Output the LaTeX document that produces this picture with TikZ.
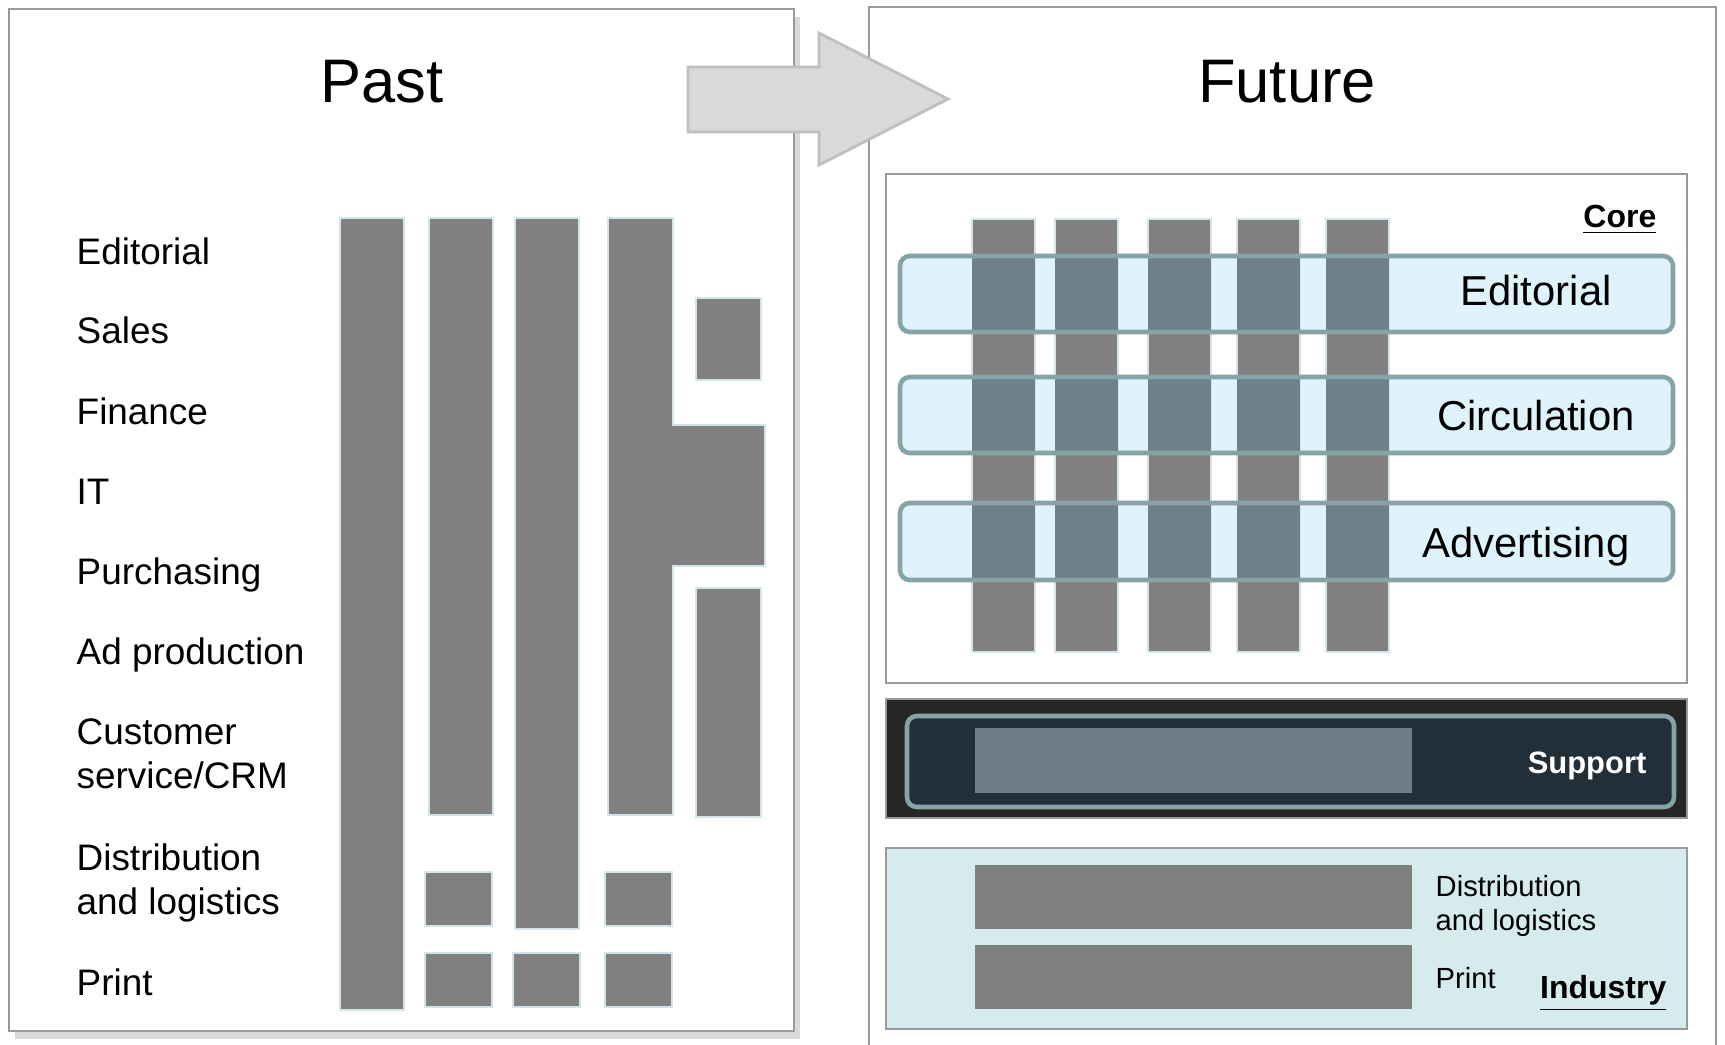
\documentclass[tikz,border=0pt]{standalone}
\usepackage{fontspec}
\setmainfont{Liberation Sans}
\usetikzlibrary{shadows}

\definecolor{bargray}{HTML}{808080}
\definecolor{baredge}{HTML}{D2E6EA}
\definecolor{bandfill}{HTML}{DFF3FC}
\definecolor{bandedge}{HTML}{86A3A6}
\definecolor{overlap}{HTML}{6E8089}
\definecolor{panelgray}{HTML}{9A9A9A}
\definecolor{arrowfill}{HTML}{D9D9D9}
\definecolor{arrowedge}{HTML}{BFBFBF}
\definecolor{supdark}{HTML}{262626}
\definecolor{supnavy}{HTML}{222F38}
\definecolor{supbar}{HTML}{6F7D87}
\definecolor{indfill}{HTML}{D6EBEE}

\tikzset{
  panel/.style={draw=panelgray, line width=0.8pt, fill=white},
  bar/.style={fill=bargray, draw=baredge, line width=0.3pt},
  band/.style={draw=bandedge, line width=1.3pt, rounded corners=2.8pt},
  bigarrow/.style={fill=arrowfill, draw=arrowedge, line width=0.8pt},
  title/.style={anchor=base, inner sep=0pt, font=\fontsize{17.5}{20}\selectfont},
  lbl/.style={anchor=base west, inner sep=0pt, align=left, font=\fontsize{10.5}{12.4}\selectfont},
  bandtxt/.style={anchor=base, inner sep=0pt, font=\fontsize{11.9}{14}\selectfont},
  tag/.style={anchor=base east, inner sep=0pt, font=\fontsize{9.1}{11}\selectfont\bfseries},
  smalltxt/.style={anchor=base west, inner sep=0pt, align=left, font=\fontsize{8.3}{9.6}\selectfont}
}

\begin{document}
\begin{tikzpicture}[x=0.1mm, y=-0.1mm]
	\useasboundingbox (0,0) rectangle (1725,1044);
	\clip (0,0) rectangle (1725,1044);
	% past
	\draw[panel, drop shadow={shadow xshift=0.6mm, shadow yshift=-0.8mm, opacity=0.3}] (9,9) rectangle (794,1031);
	\node[title] (past) at (382,102) {Past};
	\node[lbl] (editorial) at (76,264) {Editorial};
	\node[lbl] (sales) at (76,343) {Sales};
	\node[lbl] (finance) at (76,424) {Finance};
	\node[lbl] (it) at (76,504) {IT};
	\node[lbl] (purchasing) at (76,584) {Purchasing};
	\node[lbl] (adprod) at (76,664) {Ad production};
	\node[lbl] (customer) at (76,788) {Customer\\service/CRM};
	\node[lbl] (distrib) at (76,914) {Distribution\\and logistics};
	\node[lbl] (print) at (76,995) {Print};
	\draw[bar] (340,218) rectangle (404,1010);
	\draw[bar] (429,218) rectangle (493,815);
	\draw[bar] (515,218) rectangle (579,929);
	\draw[bar] (608,218) -- (673,218) -- (673,425) -- (765,425) -- (765,566) -- (673,566) -- (673,815) -- (608,815) -- cycle;
	\draw[bar] (696,298) rectangle (761,380);
	\draw[bar] (696,588) rectangle (761,817);
	\draw[bar] (425,872) rectangle (492,926);
	\draw[bar] (605,872) rectangle (672,926);
	\draw[bar] (425,953) rectangle (492,1007);
	\draw[bar] (513,953) rectangle (580,1007);
	\draw[bar] (605,953) rectangle (672,1007);
	% future
	\draw[panel] (869,7) rectangle (1716,1060);
	\node[title] (future) at (1287,102) {Future};
	\draw[bigarrow] (688,67) -- (819,67) -- (819,33) -- (948,99) -- (819,165) -- (819,132) -- (688,132) -- cycle;
	% core
	\draw[panel] (886,174) rectangle (1687,683);
	\node[tag] (core) at (1657,227) {\underline{Core}};
	\draw[bar] (972,219) rectangle (1035,652);
	\draw[bar] (1055,219) rectangle (1118,652);
	\draw[bar] (1148,219) rectangle (1211,652);
	\draw[bar] (1237,219) rectangle (1300,652);
	\draw[bar] (1326,219) rectangle (1389,652);
	\fill[bandfill, rounded corners=2.8pt] (900,256) rectangle (1673,332);
	\fill[overlap] (972,256) rectangle (1035,332) (1055,256) rectangle (1118,332) (1148,256) rectangle (1211,332) (1237,256) rectangle (1300,332) (1326,256) rectangle (1389,332);
	\draw[band] (900,256) rectangle (1673,332);
	\fill[bandfill, rounded corners=2.8pt] (900,377) rectangle (1673,453);
	\fill[overlap] (972,377) rectangle (1035,453) (1055,377) rectangle (1118,453) (1148,377) rectangle (1211,453) (1237,377) rectangle (1300,453) (1326,377) rectangle (1389,453);
	\draw[band] (900,377) rectangle (1673,453);
	\fill[bandfill, rounded corners=2.8pt] (900,503) rectangle (1673,580);
	\fill[overlap] (972,503) rectangle (1035,580) (1055,503) rectangle (1118,580) (1148,503) rectangle (1211,580) (1237,503) rectangle (1300,580) (1326,503) rectangle (1389,580);
	\draw[band] (900,503) rectangle (1673,580);
	\node[bandtxt] (editband) at (1536,305) {Editorial};
	\node[bandtxt] (circband) at (1536,430) {Circulation};
	\node[bandtxt] (advband) at (1526,557) {Advertising};
	% support
	\draw[panel, fill=supdark] (886,699) rectangle (1687,818);
	\draw[band, fill=supnavy] (907,716) rectangle (1674,807);
	\fill[supbar] (975,728) rectangle (1412,793);
	\node[tag, text=white, font=\fontsize{8.8}{10}\selectfont\bfseries] (support) at (1647,773) {Support};
	% industry
	\draw[panel, fill=indfill] (886,848) rectangle (1687,1029);
	\fill[bargray] (975,865) rectangle (1412,929);
	\fill[bargray] (975,945) rectangle (1412,1009);
	\node[smalltxt] (distind) at (1435,930) {Distribution\\and logistics};
	\node[smalltxt] (printind) at (1435,988) {Print};
	\node[tag] (industry) at (1667,998) {\underline{Industry}};
\end{tikzpicture}
\end{document}
